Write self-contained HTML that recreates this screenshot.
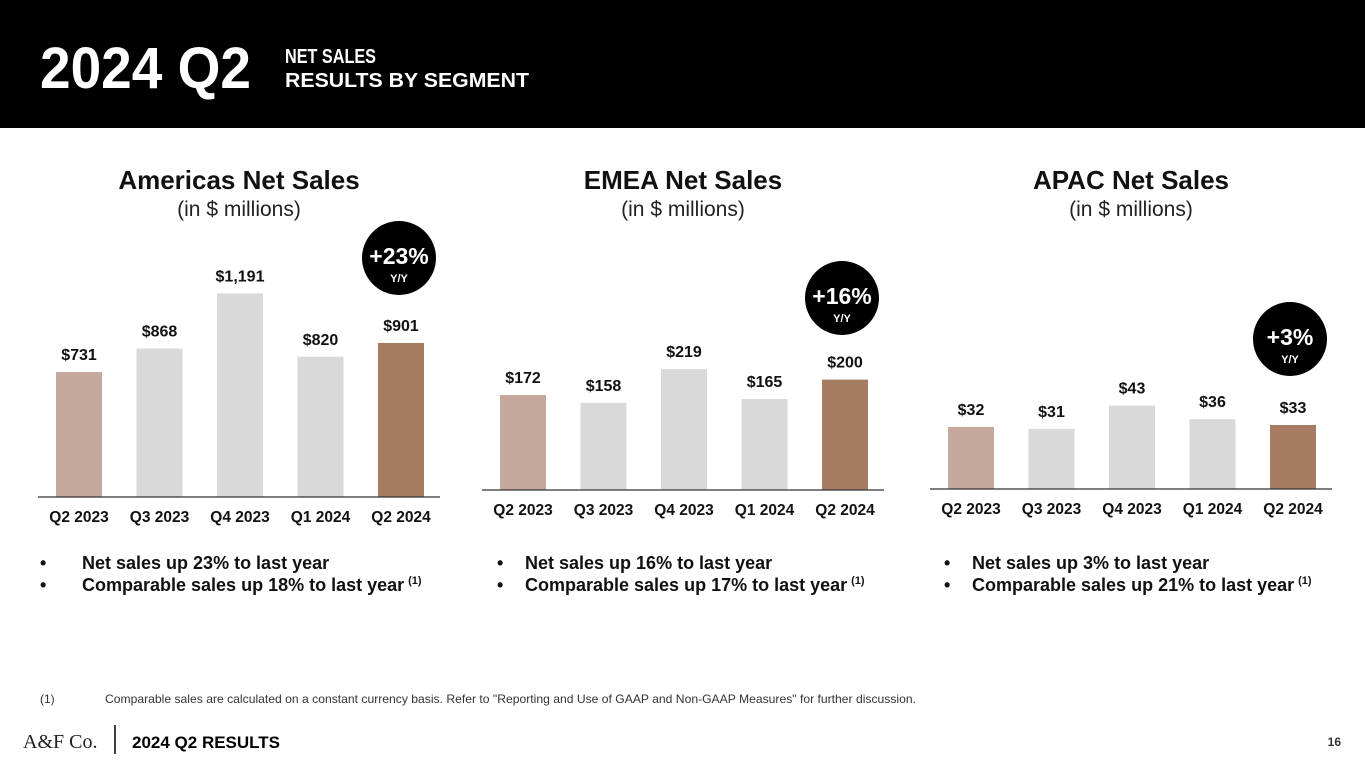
<!DOCTYPE html>
<html><head><meta charset="utf-8"><style>
body{margin:0;width:1365px;height:768px;overflow:hidden;background:#fff;font-family:"Liberation Sans",sans-serif}
svg text{font-family:"Liberation Sans",sans-serif}
</style></head><body>
<svg id="s" width="1365" height="768" viewBox="0 0 1365 768">
<rect x="0" y="0" width="1365" height="128" fill="#000"/>
<text x="40" y="88" font-size="58" font-weight="bold" fill="#fff" textLength="211" lengthAdjust="spacingAndGlyphs">2024 Q2</text>
<text x="285" y="63" font-size="20" font-weight="bold" fill="#fff" textLength="91" lengthAdjust="spacingAndGlyphs">NET SALES</text>
<text x="285" y="87" font-size="20" font-weight="bold" fill="#fff" textLength="244" lengthAdjust="spacingAndGlyphs">RESULTS BY SEGMENT</text>
<g id="charts"></g>
<text x="40" y="703" font-size="12" fill="#333">(1)</text>
<text x="105" y="703" font-size="12" fill="#333" textLength="811" lengthAdjust="spacingAndGlyphs">Comparable sales are calculated on a constant currency basis. Refer to "Reporting and Use of GAAP and Non-GAAP Measures" for further discussion.</text>
<text x="23" y="748" font-size="20" fill="#222" style="font-family:'Liberation Serif',serif">A&amp;F Co.</text>
<line x1="115" y1="725" x2="115" y2="754" stroke="#000" stroke-width="1.5"/>
<text x="132" y="748" font-size="17" font-weight="bold" fill="#000">2024 Q2 RESULTS</text>
<text x="1341" y="746" font-size="12" font-weight="bold" fill="#333" text-anchor="end">16</text>
</svg>
<script>
const categories=["Q2 2023","Q3 2023","Q4 2023","Q1 2024","Q2 2024"];
const americasValues=[731,868,1191,820,901];
const emeaValues=[172,158,219,165,200];
const apacValues=[32,31,43,36,33];
const americasLabels=["$731","$868","$1,191","$820","$901"];
const emeaLabels=["$172","$158","$219","$165","$200"];
const apacLabels=["$32","$31","$43","$36","$33"];
const growth=["+23%","+16%","+3%"];
const salesUp=[23,16,3];
const compUp=[18,17,21];
const titles=["Americas Net Sales","EMEA Net Sales","APAC Net Sales"];
const NS="http://www.w3.org/2000/svg";
const g=document.getElementById('charts');
function mk(tag,attrs,text){const e=document.createElementNS(NS,tag);for(const k in attrs)e.setAttribute(k,attrs[k]);if(text!==undefined)e.textContent=text;g.appendChild(e);return e;}
const colors=["#c4a89b","#d9d9d9","#d9d9d9","#d9d9d9","#a67c62"];
const cfg=[
 {vals:americasValues,labs:americasLabels,x0:38,base:497,scale:0.171,cx:399,cy:258,name:'americas',bx:40,tx:82},
 {vals:emeaValues,labs:emeaLabels,x0:482,base:490,scale:0.552,cx:842,cy:298,name:'emea',bx:497,tx:525},
 {vals:apacValues,labs:apacLabels,x0:930,base:489,scale:1.94,cx:1290,cy:339,name:'apac',bx:944,tx:972}];
cfg.forEach((c,ci)=>{
 const mid=c.x0+201;
 let t=mk('text',{x:mid,y:189,'font-size':26,'font-weight':'bold','text-anchor':'middle',fill:'#111'},titles[ci]);
 
 
 t=mk('text',{x:mid,y:216,'font-size':21,'text-anchor':'middle',fill:'#222'},'(in $ millions)');
 
 
 const yScale=v=>c.base-v*c.scale;
 const xScale=i=>c.x0+18+i*80.5;
 c.vals.forEach((v,i)=>{
  const r=mk('rect',{x:xScale(i),y:yScale(v),width:46,height:c.base-yScale(v),fill:colors[i]});
  
  
  const l=mk('text',{x:xScale(i)+23,y:yScale(v)-12,'font-size':16,'font-weight':'bold','text-anchor':'middle',fill:'#111'},c.labs[i]);
  
  
  const a=mk('text',{x:xScale(i)+23,y:c.base+25,'font-size':15.5,'font-weight':'bold','text-anchor':'middle',fill:'#111'},categories[i]);
  
  
 });
 const ax=mk('line',{x1:c.x0,x2:c.x0+402,y1:c.base,y2:c.base,stroke:'#333','stroke-width':1.2});
 
 
 const ci2=mk('circle',{cx:c.cx,cy:c.cy,r:37,fill:'#000'});
 
 
 t=mk('text',{x:c.cx,y:c.cy+6,'font-size':23,'font-weight':'bold','text-anchor':'middle',fill:'#fff'},growth[ci]);
 
 
 t=mk('text',{x:c.cx,y:c.cy+24,'font-size':11,'font-weight':'bold','text-anchor':'middle',fill:'#fff'},'Y/Y');
 
 
 t=mk('text',{x:c.bx,y:569,'font-size':18,'font-weight':'bold',fill:'#111'},'•');
 
 
 t=mk('text',{x:c.tx,y:569,'font-size':18,'font-weight':'bold',fill:'#111'},'Net sales up '+salesUp[ci]+'% to last year');
 
 
 t=mk('text',{x:c.bx,y:591,'font-size':18,'font-weight':'bold',fill:'#111'},'•');
 
 
 t=mk('text',{x:c.tx,y:591,'font-size':18,'font-weight':'bold',fill:'#111'},'Comparable sales up '+compUp[ci]+'% to last year');
 
 
 const w=t.getComputedTextLength();
 t=mk('text',{x:c.tx+w+4,y:584,'font-size':11,'font-weight':'bold',fill:'#111'},'(1)');
 
 
});
</script>
</body></html>
